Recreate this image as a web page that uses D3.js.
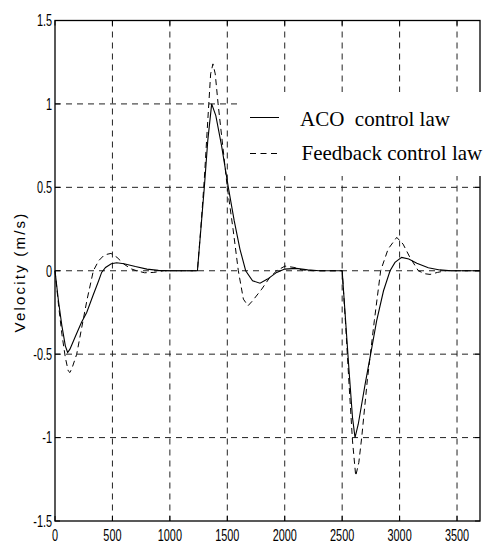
<!DOCTYPE html>
<html>
<head>
<meta charset="utf-8">
<script src="https://cdn.jsdelivr.net/npm/d3@7"></script>
<style>
  html, body { margin: 0; padding: 0; background: #fff; }
  svg { display: block; }
</style>
</head>
<body>
<svg id="chart" width="484" height="546"></svg>
<script>
// ---- data ----
const xTicks = [0, 500, 1000, 1500, 2000, 2500, 3000, 3500];
const yTicks = [-1.5, -1, -0.5, 0, 0.5, 1, 1.5];
const yTickLabels = ["-1.5", "-1", "-0.5", "0", "0.5", "1", "1.5"];
const seriesNames = ["ACO  control law", "Feedback control law"];
const yLabel = "Velocity (m/s)";

const acoT = [0,30,60,90,110,130,180,230,276,330,380,406,440,490,537,600,700,800,900,1000,
  1240,1270,1300,1330,1364,1400,1450,1509,1560,1610,1660,1720,1785,1850,1930,2000,2100,2200,2300,
  2500,2530,2560,2590,2612,2640,2700,2748,2800,2860,2917,2960,3018,3080,3150,3250,3350,3450,3700];
const acoV = [0,-0.18,-0.33,-0.45,-0.49,-0.47,-0.39,-0.31,-0.25,-0.15,-0.06,-0.01,0.02,0.042,0.048,0.042,0.025,0.01,0.002,0,
  0,0.25,0.5,0.78,1.0,0.93,0.75,0.5,0.3,0.13,0.0,-0.06,-0.075,-0.05,-0.01,0.01,0.014,0.005,0,
  0,-0.3,-0.6,-0.88,-1.0,-0.92,-0.68,-0.5,-0.3,-0.12,0,0.05,0.08,0.07,0.045,0.018,0.005,0,0];

const fbT = [0,30,60,90,115,130,150,189,230,280,334,380,430,487,540,600,660,711,780,860,950,
  1240,1270,1300,1330,1355,1375,1395,1420,1460,1500,1550,1596,1640,1680,1720,1800,1870,1930,2002,2080,2150,2250,
  2500,2530,2560,2590,2618,2645,2670,2720,2780,2835,2900,2975,3030,3090,3163,3220,3265,3330,3400,3700];
const fbV = [0,-0.2,-0.38,-0.52,-0.6,-0.61,-0.58,-0.5,-0.35,-0.17,0,0.06,0.095,0.104,0.08,0.04,0.012,0,-0.012,-0.01,0,
  0,0.26,0.55,0.9,1.18,1.24,1.18,1.0,0.75,0.5,0.25,0,-0.17,-0.21,-0.18,-0.11,-0.04,0,0.028,0.02,0.005,0,
  0,-0.32,-0.68,-1.02,-1.23,-1.15,-1.0,-0.65,-0.3,0,0.13,0.2,0.16,0.08,0,-0.018,-0.022,-0.01,0,0];

// ---- layout ----
const L = 55, R = 480, T = 20.5, B = 521;
const svg = d3.select("#chart");
const x = d3.scaleLinear().domain([0, 3700]).range([L, R]);
const y = d3.scaleLinear().domain([-1.5, 1.5]).range([B, T]);

const gridCol = "#222";
// grid
svg.append("g").selectAll("line.vg").data(xTicks.filter(d => d > 0)).join("line")
  .attr("x1", d => x(d)).attr("x2", d => x(d)).attr("y1", T).attr("y2", B)
  .attr("stroke", gridCol).attr("stroke-width", 1).attr("stroke-dasharray", "6,5");
svg.append("g").selectAll("line.hg").data(yTicks.filter(d => d > -1.5 && d < 1.5)).join("line")
  .attr("x1", L).attr("x2", R).attr("y1", d => y(d)).attr("y2", d => y(d))
  .attr("stroke", gridCol).attr("stroke-width", 1).attr("stroke-dasharray", "6,5");

// ticks (inward)
const tk = svg.append("g").attr("stroke", "#000").attr("stroke-width", 1);
xTicks.forEach(d => {
  tk.append("line").attr("x1", x(d)).attr("x2", x(d)).attr("y1", B).attr("y2", B - 5);
  tk.append("line").attr("x1", x(d)).attr("x2", x(d)).attr("y1", T).attr("y2", T + 5);
});
yTicks.forEach(d => {
  tk.append("line").attr("x1", L).attr("x2", L + 5).attr("y1", y(d)).attr("y2", y(d));
  tk.append("line").attr("x1", R).attr("x2", R - 5).attr("y1", y(d)).attr("y2", y(d));
});

// box
svg.append("rect").attr("x", L).attr("y", T).attr("width", R - L).attr("height", B - T)
  .attr("fill", "none").attr("stroke", "#000").attr("stroke-width", 1.3);

// curves
const line = d3.line().x(d => x(d[0])).y(d => y(d[1])).curve(d3.curveLinear);
const acoData = acoT.map((t, i) => [t, acoV[i]]);
const fbData = fbT.map((t, i) => [t, fbV[i]]);
svg.append("path").datum(fbData).attr("d", line).attr("fill", "none")
  .attr("stroke", "#000").attr("stroke-width", 1).attr("stroke-dasharray", "6,4");
svg.append("path").datum(acoData).attr("d", line).attr("fill", "none")
  .attr("stroke", "#000").attr("stroke-width", 1.1);

// legend (white box over grid)
svg.append("rect").attr("x", 240).attr("y", 92).attr("width", 250).attr("height", 84).attr("fill", "#fff");
svg.append("line").attr("x1", 250).attr("x2", 279).attr("y1", 117.5).attr("y2", 117.5)
  .attr("stroke", "#000").attr("stroke-width", 1);
svg.append("line").attr("x1", 250).attr("x2", 281).attr("y1", 153.5).attr("y2", 153.5)
  .attr("stroke", "#000").attr("stroke-width", 1).attr("stroke-dasharray", "6,4.5");
svg.append("text").attr("x", 300).attr("y", 125.5).text(seriesNames[0])
  .attr("font-family", "'Liberation Serif', 'Times New Roman', serif").attr("font-size", 21)
  .attr("fill", "#000").style("white-space", "pre");
svg.append("text").attr("x", 301.5).attr("y", 160).text(seriesNames[1])
  .attr("font-family", "'Liberation Serif', 'Times New Roman', serif").attr("font-size", 21)
  .attr("fill", "#000");

// tick labels (narrow)
const sx = 0.68;
const tl = svg.append("g").attr("font-family", "'Liberation Sans', Arial, sans-serif")
  .attr("font-size", 16).attr("fill", "#000");
xTicks.forEach(d => {
  tl.append("text").attr("transform", `translate(${x(d)},541) scale(${sx},1)`)
    .attr("text-anchor", "middle").text(String(d));
});
yTicks.forEach((d, i) => {
  tl.append("text").attr("transform", `translate(52,${y(d)}) scale(${sx},1)`)
    .attr("text-anchor", "end").attr("dy", "0.36em").text(yTickLabels[i]);
});

// y label
svg.append("text").attr("transform", "translate(25,272) rotate(-90)")
  .attr("text-anchor", "middle").attr("font-family", "'Liberation Sans', Arial, sans-serif")
  .attr("font-size", 15).attr("letter-spacing", "2.2px").attr("fill", "#000").text(yLabel);
</script>
</body>
</html>
